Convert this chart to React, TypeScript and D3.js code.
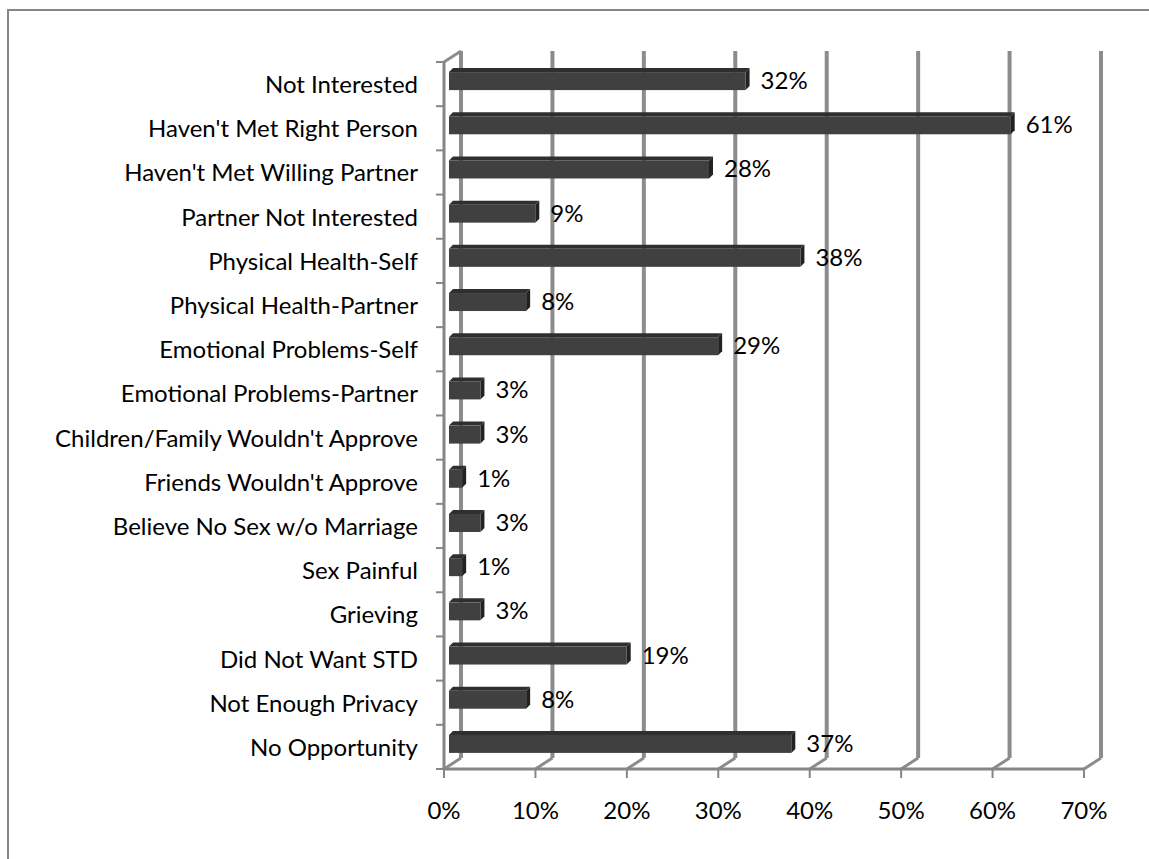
import React from "react";
import * as d3 from "d3";

const categories = [
  "Not Interested",
  "Haven't Met Right Person",
  "Haven't Met Willing Partner",
  "Partner Not Interested",
  "Physical Health-Self",
  "Physical Health-Partner",
  "Emotional Problems-Self",
  "Emotional Problems-Partner",
  "Children/Family Wouldn't Approve",
  "Friends Wouldn't Approve",
  "Believe No Sex w/o Marriage",
  "Sex Painful",
  "Grieving",
  "Did Not Want STD",
  "Not Enough Privacy",
  "No Opportunity",
];
const values = [32, 61, 28, 9, 38, 8, 29, 3, 3, 1, 3, 1, 3, 19, 8, 37];
const ticks = [0, 10, 20, 30, 40, 50, 60, 70];

const FONT = "Lato, 'Open Sans', sans-serif";

export default function App() {
  const left = 444;
  const right = 1084;
  const top = 62;
  const bottom = 769;
  const dx = 17;
  const dy = -11;
  const x = d3.scaleLinear().domain([0, 70]).range([left, right]);
  const y = d3.scaleBand<string>().domain(categories).range([top, bottom]);
  const bw = y.bandwidth();
  const grid = "#8c8c8c";
  const axis = "#868686";

  return (
    <svg
      width={1149}
      height={859}
      style={{ position: "absolute", left: 0, top: 0, background: "#fff" }}
    >
      <rect x={8} y={10} width={1300} height={1000} fill="#fff" stroke={axis} strokeWidth={2} />
      {/* back wall gridlines */}
      {ticks.map((t) => (
        <g key={"g" + t}>
          <line x1={x(t) + dx} x2={x(t) + dx} y1={bottom + dy} y2={top + dy} stroke={grid} strokeWidth={4} />
          <line x1={x(t)} y1={bottom} x2={x(t) + dx} y2={bottom + dy} stroke={grid} strokeWidth={3} />
        </g>
      ))}
      {/* top-left diagonal */}
      <line x1={left} y1={top} x2={left + dx} y2={top + dy} stroke={grid} strokeWidth={3} />
      {/* front axes */}
      <line x1={left} x2={left} y1={top} y2={bottom} stroke={axis} strokeWidth={3} />
      <line x1={left} x2={right + 1} y1={bottom} y2={bottom} stroke={axis} strokeWidth={3} />
      {ticks.map((t) => (
        <line key={"t" + t} x1={x(t)} x2={x(t)} y1={bottom} y2={bottom + 9} stroke={axis} strokeWidth={2} />
      ))}
      {categories.map((c, i) => (
        <line key={"yt" + i} x1={left - 8} x2={left} y1={y(c)!} y2={y(c)!} stroke={axis} strokeWidth={2} />
      ))}
      <line x1={left - 8} x2={left} y1={bottom} y2={bottom} stroke={axis} strokeWidth={2} />
      {/* bars */}
      {categories.map((c, i) => {
        const cy = y(c)! + bw / 2;
        const x0 = x(0) + 5;
        const xe = x(values[i]) + 9;
        const t0 = cy - 12;
        const b0 = cy + 6;
        const s = 4;
        return (
          <g key={"b" + i}>
            <polygon
              points={`${x0},${t0} ${x0 + s},${t0 - s} ${xe + s},${t0 - s} ${xe},${t0}`}
              fill="#2f2f2f"
            />
            <polygon
              points={`${xe},${t0} ${xe + s},${t0 - s} ${xe + s},${b0 - s} ${xe},${b0}`}
              fill="#222"
            />
            <rect x={x0} y={t0} width={xe - x0} height={b0 - t0} fill="#404040" />
            <text
              x={xe + 15}
              y={cy + 5}
              fontFamily={FONT}
              fontSize={24}
              fill="#000"
            >
              {values[i]}%
            </text>
            <text
              x={418}
              y={cy + 9}
              textAnchor="end"
              fontFamily={FONT}
              fontSize={24}
              fill="#000"
            >
              {c}
            </text>
          </g>
        );
      })}
      {ticks.map((t) => (
        <text
          key={"tl" + t}
          x={x(t)}
          y={819}
          textAnchor="middle"
          fontFamily={FONT}
          fontSize={24}
          fill="#000"
        >
          {t}%
        </text>
      ))}
    </svg>
  );
}
